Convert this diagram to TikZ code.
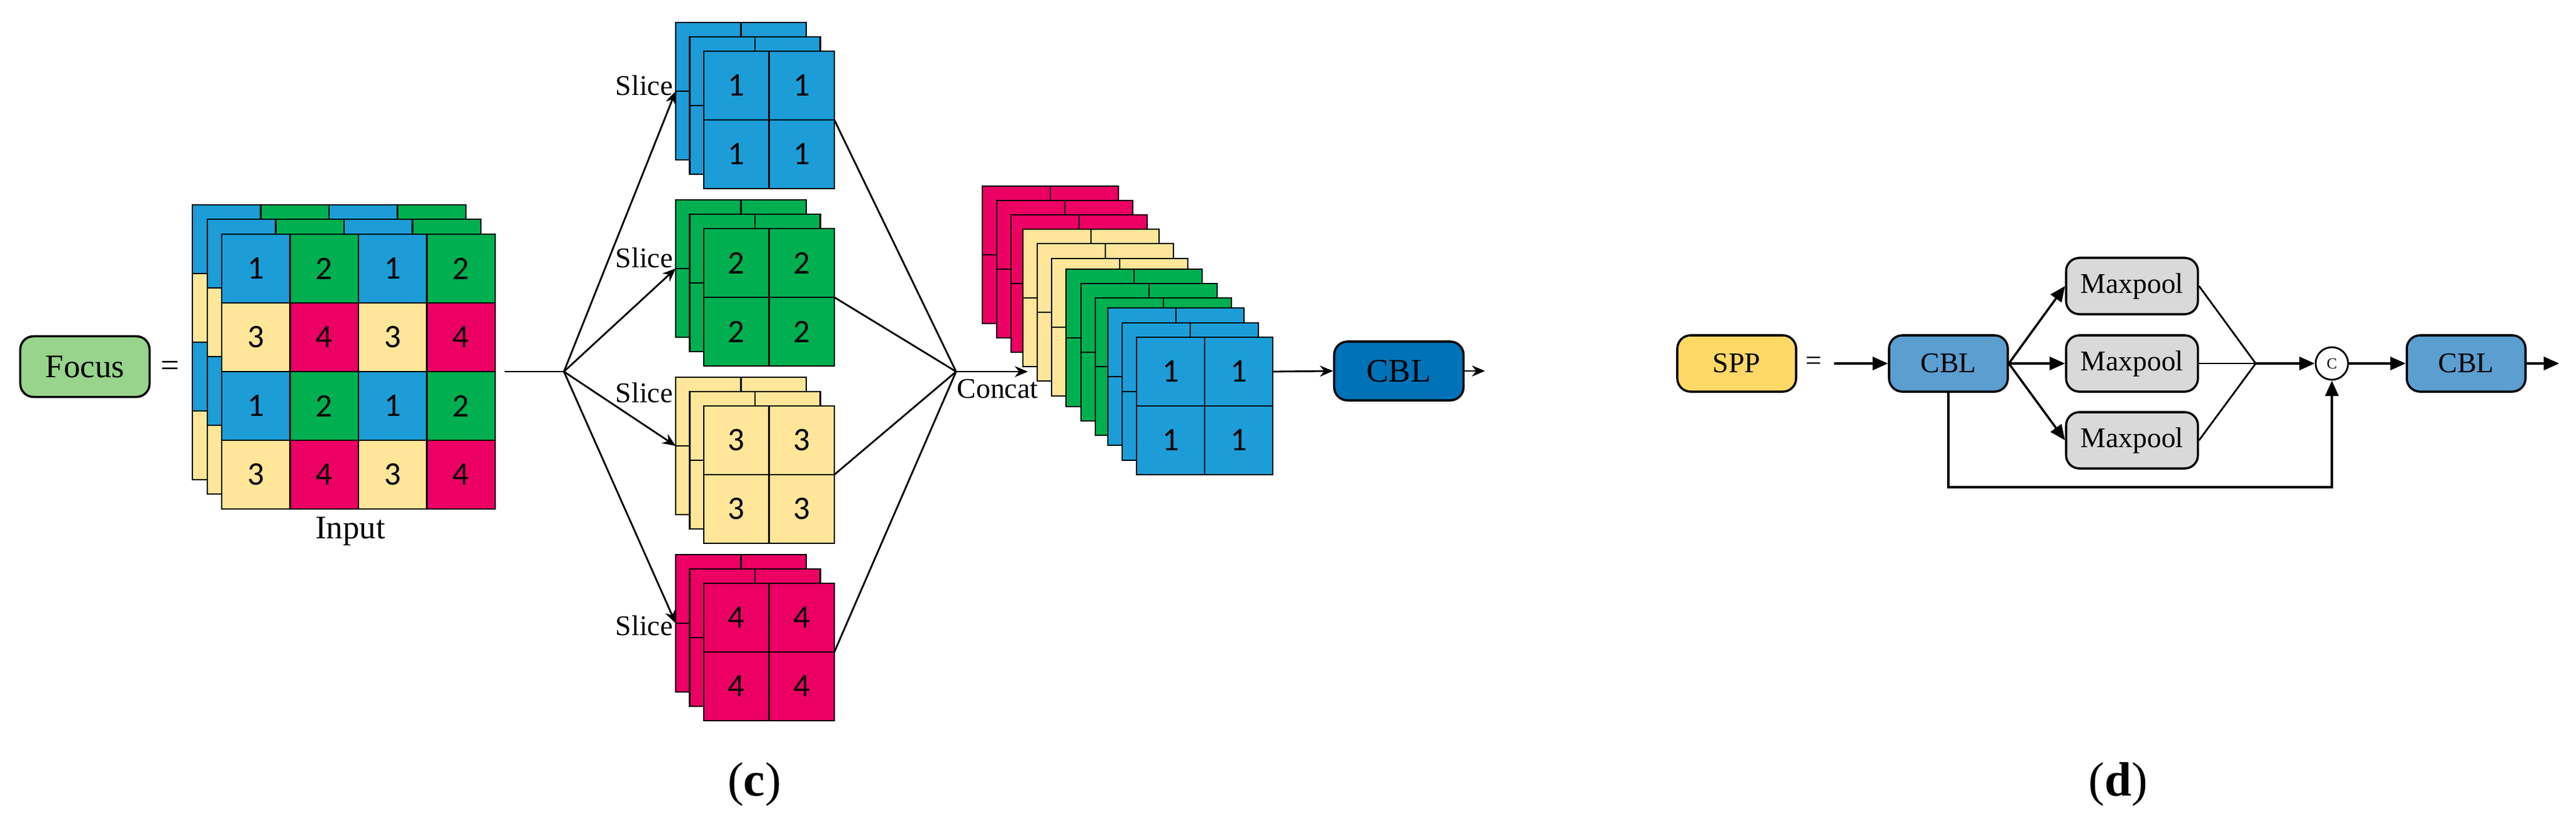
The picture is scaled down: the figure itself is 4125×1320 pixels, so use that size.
\documentclass[tikz,border=0pt]{standalone}
\usepackage{fontspec}
\setmainfont{Liberation Serif}
\newfontfamily\numfont{Carlito}
\usetikzlibrary{arrows.meta}
\definecolor{c1}{RGB}{28,157,216}
\definecolor{c2}{RGB}{0,176,80}
\definecolor{c3}{RGB}{255,230,153}
\definecolor{c4}{RGB}{236,0,100}
\definecolor{focusg}{RGB}{152,212,140}
\definecolor{cbldark}{RGB}{0,114,184}
\definecolor{cbllight}{RGB}{91,158,208}
\definecolor{sppy}{RGB}{255,217,102}
\definecolor{mpg}{RGB}{217,217,217}
\tikzset{
  cell/.style={draw=black,line width=0.8pt},
  num/.style={font=\numfont\fontsize{15}{18}\selectfont,inner sep=0pt},
  lab/.style={font=\fontsize{13}{16}\selectfont,inner sep=0pt},
  box/.style={draw=black,line width=1pt,rounded corners=6pt,inner sep=0pt,font=\fontsize{15}{18}\selectfont},
  sbox/.style={draw=black,line width=1pt,rounded corners=6pt,inner sep=0pt,minimum width=1.9cm,minimum height=0.9cm,font=\fontsize{13}{16}\selectfont},
  arr/.style={line width=0.8pt,-{Stealth[length=6pt,width=5pt]}},
  ln/.style={line width=0.8pt},
  sarr/.style={line width=1pt,-{Triangle[length=7pt,width=6pt]}},
}
\begin{document}
\begin{tikzpicture}[x=0.01cm,y=-0.01cm]
\useasboundingbox (0,0) rectangle (4125,1320);
% ---------- (c) ----------
\node[box,fill=focusg,minimum width=2.07cm,minimum height=0.97cm] (focus) at (136,587) {Focus};
\node[font=\fontsize{15}{18}\selectfont] (eq1) at (272,590) {=};
% input grid
\foreach \ox/\oy in {308/328,332/351,355/375}{
  \foreach \r in {0,...,3}{\foreach \c in {0,...,3}{
    \pgfmathtruncatemacro\k{mod(\r,2)*2+mod(\c,2)+1}
    \draw[cell,fill=c\k] ({\ox+\c*109.5},{\oy+\r*110}) rectangle ++(109.5,110);
  }}}
\foreach \r in {0,...,3}{\foreach \c in {0,...,3}{
  \pgfmathtruncatemacro\k{mod(\r,2)*2+mod(\c,2)+1}
  \node[num] (in\r\c) at ({355+\c*109.5+54.75},{375+\r*110+55}) {\k};
}}
\node[font=\fontsize{15}{18}\selectfont] (inlab) at (561,851) {Input};
\coordinate (inR) at (808,595);
\coordinate (hubL) at (903,595);
\coordinate (hubR) at (1531,595);
\draw[ln] (inR) -- (hubL);
% slice stacks
\foreach \k/\top in {1/36,2/320,3/604,4/888}{
  \foreach \d in {0,1,2}{
    \foreach \r in {0,1}{\foreach \c in {0,1}{
      \draw[cell,fill=c\k] ({1082+\d*22.5+\c*104.5},{\top+\d*23+\r*110}) rectangle ++(104.5,110);
    }}}
  \foreach \r in {0,1}{\foreach \c in {0,1}{
    \node[num] (s\k\r\c) at ({1127+\c*104.5+52.25},{\top+46+\r*110+55}) {\k};
  }}
  \coordinate (sin\k) at (1082,{\top+110});
  \coordinate (sout\k) at (1336,{\top+156});
  \draw[arr] (hubL) -- (sin\k);
  \draw[ln] (sout\k) -- (hubR);
}
\node[lab,anchor=east] (sl1) at (1078,137) {Slice};
\node[lab,anchor=east] (sl2) at (1078,413) {Slice};
\node[lab,anchor=east] (sl3) at (1078,629) {Slice};
\node[lab,anchor=east] (sl4) at (1078,1002) {Slice};
% concat stack
\foreach \x/\y/\k in {1573/298/4,1596/321/4,1619/344/4,1638/367/3,1661/390/3,1684/414/3,1707/431/2,1731/454/2,1754/477/2,1774/493/1,1797/517/1,1820/540/1}{
  \foreach \r in {0,1}{\foreach \c in {0,1}{
    \draw[cell,fill=c\k] ({\x+\c*109},{\y+\r*110}) rectangle ++(109,110);
  }}}
\foreach \r in {0,1}{\foreach \c in {0,1}{
  \node[num] (cc\r\c) at ({1820+\c*109+54.5},{540+\r*110+55}) {1};
}}
\coordinate (catin) at (1646,595);
\draw[arr] (hubR) -- (catin);
\node[lab,anchor=base west] (concat) at (1532,637) {Concat};
\coordinate (catout) at (2038,595);
\node[box,fill=cbldark,minimum width=2.07cm,minimum height=0.94cm] (cblc) at (2240,594) {CBL};
\draw[arr] (catout) -- (cblc.west);
\coordinate (cend) at (2378,594);
\draw[arr] (cblc.east) -- (cend);
\node[font=\fontsize{22}{26}\selectfont] (labc) at (1208,1256) {(\textbf{c})};
% ---------- (d) ----------
\node[sbox,fill=sppy] (spp) at (2781,582) {SPP};
\node[font=\fontsize{13}{16}\selectfont] (eq2) at (2904,582) {=};
\coordinate (sppin) at (2937,582);
\node[sbox,fill=cbllight] (cbl1) at (3120,582) {CBL};
\node[sbox,fill=mpg,minimum width=2.11cm] (mp1) at (3414,458) {Maxpool};
\node[sbox,fill=mpg,minimum width=2.11cm] (mp2) at (3414,582) {Maxpool};
\node[sbox,fill=mpg,minimum width=2.11cm] (mp3) at (3414,705) {Maxpool};
\coordinate (merge) at (3612,582);
\node[draw=black,line width=0.8pt,circle,minimum size=0.52cm,inner sep=0pt,font=\fontsize{7}{8}\selectfont,fill=white] (cat) at (3734,582) {C};
\node[sbox,fill=cbllight] (cbl2) at (3949,582) {CBL};
\coordinate (dend) at (4098,582);
\draw[sarr] (sppin) -- (cbl1.west);
\draw[sarr] (cbl1.east) -- (mp1.west);
\draw[sarr] (cbl1.east) -- (mp2.west);
\draw[sarr] (cbl1.east) -- (mp3.west);
\draw[ln] (mp1.east) -- (merge);
\draw[ln] (mp2.east) -- (merge);
\draw[ln] (mp3.east) -- (merge);
\draw[sarr] (merge) -- (cat.west);
\draw[sarr] (cat.east) -- (cbl2.west);
\draw[sarr] (cbl2.east) -- (dend);
\coordinate (skip) at (3734,780);
\draw[sarr] (cbl1.south) |- (skip) -- (cat.south);
\node[font=\fontsize{22}{26}\selectfont] (labd) at (3392,1256) {(\textbf{d})};
\end{tikzpicture}
\end{document}
